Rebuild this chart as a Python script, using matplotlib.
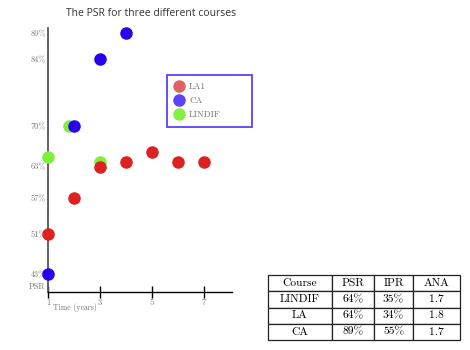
import numpy as np
import matplotlib
matplotlib.use('Agg')
import matplotlib.pyplot as plt
from matplotlib.lines import Line2D

# data
la1_x = [1, 2, 3, 4, 5, 6, 7]
la1_y = [51, 57, 62.8, 63.7, 65.5, 63.7, 63.7]
ca_x = [1, 2, 3, 4]
ca_y = [43, 70, 84, 89]
lindif_x = [1, 1.8, 3]
lindif_y = [64.6, 70, 63.7]

ytick_vals = [43, 51, 57, 63, 70, 84, 89]
xtick_vals = [1, 3, 5, 7]

table_cols = ['Course', 'PSR', 'IPR', 'ANA']
table_rows = [['LINDIF', '64%', '35%', '1.7'],
              ['LA', '64%', '34%', '1.8'],
              ['CA', '89%', '55%', '1.7']]

# the hand drawn y axis is not evenly spaced: where each tick sits (px from top)
axis_vals = [39.6, 43, 51, 57, 63, 70, 84, 89, 90]
axis_px = [292, 274, 234, 198, 166, 126, 59, 33, 28]

def fwd(v):
    return -np.interp(v, axis_vals, axis_px)

def inv(u):
    return np.interp(-u, axis_px[::-1], axis_vals[::-1])

serif = ['cmr10', 'DejaVu Serif']
red = '#dd2020'
blue = '#2a00ee'
green = '#7ef03a'
gray = '#777777'

fig = plt.figure(figsize=(4.7, 3.5), dpi=100)
ax = fig.add_axes([48 / 470, 58 / 350, 184 / 470, 264 / 350])
ax.set_yscale('function', functions=(fwd, inv))

ax.scatter(lindif_x, lindif_y, s=64, color=green, zorder=3, clip_on=False)
ax.scatter(la1_x, la1_y, s=64, color=red, zorder=3, clip_on=False)
ax.scatter(ca_x, ca_y, s=64, color=blue, zorder=4, clip_on=False)

ax.set_xlim(1, 8.08)
ax.set_ylim(39.6, 90)
for s in ['top', 'right']:
    ax.spines[s].set_visible(False)
ax.spines['left'].set_color('#555555')
ax.spines['left'].set_linewidth(1.3)
ax.spines['bottom'].set_color('black')
ax.spines['bottom'].set_linewidth(1.0)

ax.set_yticks(ytick_vals)
ax.set_yticklabels([f'{v}%' for v in ytick_vals], fontfamily=serif,
                   fontsize=6.0, color=gray)
ax.yaxis.set_minor_locator(matplotlib.ticker.NullLocator())
ax.tick_params(axis='y', length=0, pad=1.5)
ax.set_xticks(xtick_vals)
ax.set_xticklabels([str(v) for v in xtick_vals], fontfamily=serif,
                   fontsize=6.2, color=gray)
ax.tick_params(axis='x', direction='inout', length=9, width=1.0, pad=0.5)

ax.text(-0.015, 40.5, 'PSR', transform=ax.get_yaxis_transform(), ha='right',
        va='center', fontfamily=serif, fontsize=6.0, color=gray)
ax.text(1.19, -0.057, 'Time (years)', transform=ax.get_xaxis_transform(),
        ha='left', va='center', fontfamily=serif, fontsize=5.6, color=gray,
        clip_on=False)

fig.text(151 / 470, 1 - 14 / 350, 'The PSR for three different courses',
         ha='center', va='center', fontfamily='Open Sans', fontsize=7.5,
         color='#333333')

handles = [Line2D([], [], marker='o', ls='', markersize=8, color='#e06262'),
           Line2D([], [], marker='o', ls='', markersize=8, color='#6040ff'),
           Line2D([], [], marker='o', ls='', markersize=8, color='#84f040')]
leg = fig.legend(handles, ['LA1', 'CA', 'LINDIF'], loc='upper left',
                 bbox_to_anchor=(167 / 470, 1 - 125 / 350, 85 / 470, 50 / 350),
                 mode='expand', fancybox=False,
                 prop={'family': serif, 'size': 6.5}, labelcolor=gray,
                 handletextpad=0.6, borderpad=0.85, labelspacing=0.62,
                 handlelength=1.0, borderaxespad=0)
leg.get_frame().set_edgecolor('#3010ff')
leg.get_frame().set_linewidth(1.3)

tax = fig.add_axes([268 / 470, 10 / 350, 192 / 470, 65 / 350])
tax.axis('off')
tbl = tax.table(cellText=table_rows, colLabels=table_cols, loc='center',
                cellLoc='center', bbox=[0, 0, 1, 1],
                colWidths=[64, 42, 39, 47])
tbl.auto_set_font_size(False)
for (r, c), cell in tbl.get_celld().items():
    cell.set_linewidth(0.9)
    cell.set_edgecolor('#222222')
    cell.get_text().set_fontfamily(serif)
    cell.get_text().set_fontsize(8.3)

fig.savefig('out.png', dpi=100)
